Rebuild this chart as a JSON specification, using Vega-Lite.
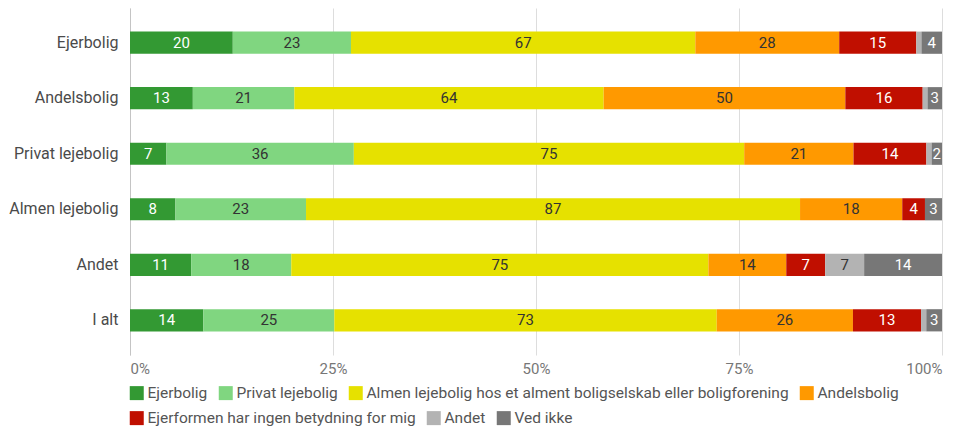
{
  "$schema": "https://vega.github.io/schema/vega-lite/v6.json",
  "width": 812,
  "height": 347,
  "autosize": "none",
  "padding": {"left": 130, "top": 8, "right": 14, "bottom": 72},
  "background": "white",
  "config": {
    "font": "Roboto",
    "view": {"stroke": null}
  },
  "data": {
    "values": [
      {"cat": "Ejerbolig", "series": "Ejerbolig", "value": 20},
      {"cat": "Ejerbolig", "series": "Privat lejebolig", "value": 23},
      {"cat": "Ejerbolig", "series": "Almen lejebolig hos et alment boligselskab eller boligforening", "value": 67},
      {"cat": "Ejerbolig", "series": "Andelsbolig", "value": 28},
      {"cat": "Ejerbolig", "series": "Ejerformen har ingen betydning for mig", "value": 15},
      {"cat": "Ejerbolig", "series": "Andet", "value": 1},
      {"cat": "Ejerbolig", "series": "Ved ikke", "value": 4},
      {"cat": "Andelsbolig", "series": "Ejerbolig", "value": 13},
      {"cat": "Andelsbolig", "series": "Privat lejebolig", "value": 21},
      {"cat": "Andelsbolig", "series": "Almen lejebolig hos et alment boligselskab eller boligforening", "value": 64},
      {"cat": "Andelsbolig", "series": "Andelsbolig", "value": 50},
      {"cat": "Andelsbolig", "series": "Ejerformen har ingen betydning for mig", "value": 16},
      {"cat": "Andelsbolig", "series": "Andet", "value": 1},
      {"cat": "Andelsbolig", "series": "Ved ikke", "value": 3},
      {"cat": "Privat lejebolig", "series": "Ejerbolig", "value": 7},
      {"cat": "Privat lejebolig", "series": "Privat lejebolig", "value": 36},
      {"cat": "Privat lejebolig", "series": "Almen lejebolig hos et alment boligselskab eller boligforening", "value": 75},
      {"cat": "Privat lejebolig", "series": "Andelsbolig", "value": 21},
      {"cat": "Privat lejebolig", "series": "Ejerformen har ingen betydning for mig", "value": 14},
      {"cat": "Privat lejebolig", "series": "Andet", "value": 1},
      {"cat": "Privat lejebolig", "series": "Ved ikke", "value": 2},
      {"cat": "Almen lejebolig", "series": "Ejerbolig", "value": 8},
      {"cat": "Almen lejebolig", "series": "Privat lejebolig", "value": 23},
      {"cat": "Almen lejebolig", "series": "Almen lejebolig hos et alment boligselskab eller boligforening", "value": 87},
      {"cat": "Almen lejebolig", "series": "Andelsbolig", "value": 18},
      {"cat": "Almen lejebolig", "series": "Ejerformen har ingen betydning for mig", "value": 4},
      {"cat": "Almen lejebolig", "series": "Andet", "value": 0},
      {"cat": "Almen lejebolig", "series": "Ved ikke", "value": 3},
      {"cat": "Andet", "series": "Ejerbolig", "value": 11},
      {"cat": "Andet", "series": "Privat lejebolig", "value": 18},
      {"cat": "Andet", "series": "Almen lejebolig hos et alment boligselskab eller boligforening", "value": 75},
      {"cat": "Andet", "series": "Andelsbolig", "value": 14},
      {"cat": "Andet", "series": "Ejerformen har ingen betydning for mig", "value": 7},
      {"cat": "Andet", "series": "Andet", "value": 7},
      {"cat": "Andet", "series": "Ved ikke", "value": 14},
      {"cat": "I alt", "series": "Ejerbolig", "value": 14},
      {"cat": "I alt", "series": "Privat lejebolig", "value": 25},
      {"cat": "I alt", "series": "Almen lejebolig hos et alment boligselskab eller boligforening", "value": 73},
      {"cat": "I alt", "series": "Andelsbolig", "value": 26},
      {"cat": "I alt", "series": "Ejerformen har ingen betydning for mig", "value": 13},
      {"cat": "I alt", "series": "Andet", "value": 1},
      {"cat": "I alt", "series": "Ved ikke", "value": 3}
    ]
  },
  "transform": [
    {"calculate": "indexof(['Ejerbolig','Privat lejebolig','Almen lejebolig hos et alment boligselskab eller boligforening','Andelsbolig','Ejerformen har ingen betydning for mig','Andet','Ved ikke'], datum.series)", "as": "k"},
    {"stack": "value", "groupby": ["cat"], "sort": [{"field": "k", "order": "ascending"}], "offset": "normalize", "as": ["x0", "x1"]},
    {"calculate": "(datum.x0 + datum.x1) / 2", "as": "xm"}
  ],
  "encoding": {
    "y": {
      "field": "cat",
      "type": "nominal",
      "sort": ["Ejerbolig", "Andelsbolig", "Privat lejebolig", "Almen lejebolig", "Andet", "I alt"],
      "scale": {"paddingInner": 0.6, "paddingOuter": 0.425},
      "axis": {
        "title": null,
        "ticks": false,
        "domain": true,
        "domainColor": "#c4c4c4",
        "labelFontSize": 16,
        "labelColor": "#4a4a4a",
        "labelPadding": 12
      }
    }
  },
  "layer": [
    {
      "transform": [{"filter": "datum.k < 4"}],
      "mark": {"type": "bar"},
      "encoding": {
        "x": {
          "field": "x0",
          "type": "quantitative",
          "scale": {"domain": [0, 1], "nice": false},
          "axis": {
            "title": null,
            "format": ".0%",
            "values": [0, 0.25, 0.5, 0.75, 1],
            "ticks": false,
            "domain": false,
            "grid": true,
            "gridColor": "#dddddd",
            "labelFontSize": 15,
            "labelColor": "#777777",
            "labelPadding": 6,
            "labelFlush": true
          }
        },
        "x2": {"field": "x1"},
        "color": {
          "field": "series",
          "type": "nominal",
          "scale": {
            "domain": ["Ejerbolig", "Privat lejebolig", "Almen lejebolig hos et alment boligselskab eller boligforening", "Andelsbolig"],
            "range": ["#339933", "#80d680", "#e6e100", "#ff9900"]
          },
          "legend": {
            "title": null,
            "orient": "none",
            "legendX": -1,
            "legendY": 377,
            "direction": "horizontal",
            "symbolType": "square",
            "symbolSize": 196,
            "symbolStrokeWidth": 0,
            "labelFontSize": 15.5,
            "labelColor": "#555555",
            "labelOffset": 3,
            "labelLimit": 600,
            "columnPadding": 10
          }
        }
      }
    },
    {
      "transform": [{"filter": "datum.k >= 4"}],
      "mark": {"type": "bar"},
      "encoding": {
        "x": {"field": "x0", "type": "quantitative"},
        "x2": {"field": "x1"},
        "color": {
          "field": "series",
          "type": "nominal",
          "scale": {
            "domain": ["Ejerformen har ingen betydning for mig", "Andet", "Ved ikke"],
            "range": ["#c00f00", "#b3b3b3", "#777777"]
          },
          "legend": {
            "title": null,
            "orient": "none",
            "legendX": -1,
            "legendY": 402,
            "direction": "horizontal",
            "symbolType": "square",
            "symbolSize": 196,
            "symbolStrokeWidth": 0,
            "labelFontSize": 15.5,
            "labelColor": "#555555",
            "labelOffset": 3,
            "labelLimit": 600,
            "columnPadding": 10
          }
        }
      }
    },
    {
      "transform": [{"filter": "datum.value > 1"}],
      "mark": {"type": "text", "fontSize": 15, "baseline": "middle", "align": "center"},
      "encoding": {
        "x": {"field": "xm", "type": "quantitative"},
        "text": {"field": "value", "type": "quantitative"},
        "color": {
          "condition": {"test": "datum.series == 'Ejerbolig' || datum.series == 'Ejerformen har ingen betydning for mig' || datum.series == 'Ved ikke'", "value": "#ffffff"},
          "value": "#333333"
        }
      }
    }
  ],
  "resolve": {"scale": {"color": "independent"}}
}
